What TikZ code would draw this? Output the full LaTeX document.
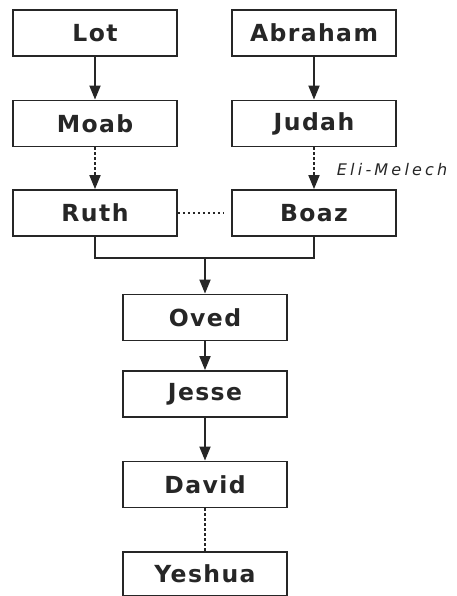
\documentclass[tikz,border=0pt]{standalone}
\usepackage{fontspec}
\usetikzlibrary{arrows.meta}
\newfontfamily\boxfont{DejaVu Sans}[LetterSpace=6]
\newfontfamily\lblfont{DejaVu Sans}[LetterSpace=20]
\definecolor{ink}{HTML}{262626}
\tikzset{
  person/.style={draw=ink, line width=1.8pt, fill=white, minimum width=164pt, minimum height=46pt,
    inner sep=0pt, text=ink, font=\boxfont\bfseries\fontsize{23.5}{28}\selectfont},
  link/.style={draw=ink, line width=1.8pt},
  solidarrow/.style={link, -{Triangle[width=11pt,length=14pt]}},
  dotarrow/.style={link, dash pattern=on 2.5pt off 2.5pt, -{Triangle[width=11pt,length=14pt]}},
  dotline/.style={link, dash pattern=on 2.5pt off 2.5pt},
}
\begin{document}
\begin{tikzpicture}[x=1pt,y=-1pt]
\useasboundingbox (0,0) rectangle (457,596);
\node[person] (lot) at (95,33) {Lot};
\node[person] (abraham) at (314,33) {Abraham};
\node[person] (moab) at (95,123.5) {Moab};
\node[person] (judah) at (314,123.5) {Judah};
\node[person] (ruth) at (95,213) {Ruth};
\node[person] (boaz) at (314,213) {Boaz};
\node[person] (oved) at (205,317.5) {Oved};
\node[person] (jesse) at (205,394) {Jesse};
\node[person] (david) at (205,484.5) {David};
\node[person, minimum height=44pt] (yeshua) at (205,574) {Yeshua};
\coordinate (join) at (205,258);

\draw[solidarrow] (lot) -- (moab);
\draw[solidarrow] (abraham) -- (judah);
\draw[dotarrow] (moab) -- (ruth);
\draw[dotarrow] (judah) -- node[anchor=west, inner sep=0pt, xshift=22pt, yshift=-1pt, text=ink,
  font=\lblfont\itshape\fontsize{16}{18}\selectfont] {Eli-Melech} (boaz);
\draw[dotline, shorten >=7pt] (ruth) -- (boaz);
\draw[link] (ruth.south) |- (join) -| (boaz.south);
\draw[solidarrow] (join) -- (oved);
\draw[solidarrow] (oved) -- (jesse);
\draw[solidarrow] (jesse) -- (david);
\draw[dotline] (david) -- (yeshua);
\end{tikzpicture}
\end{document}
